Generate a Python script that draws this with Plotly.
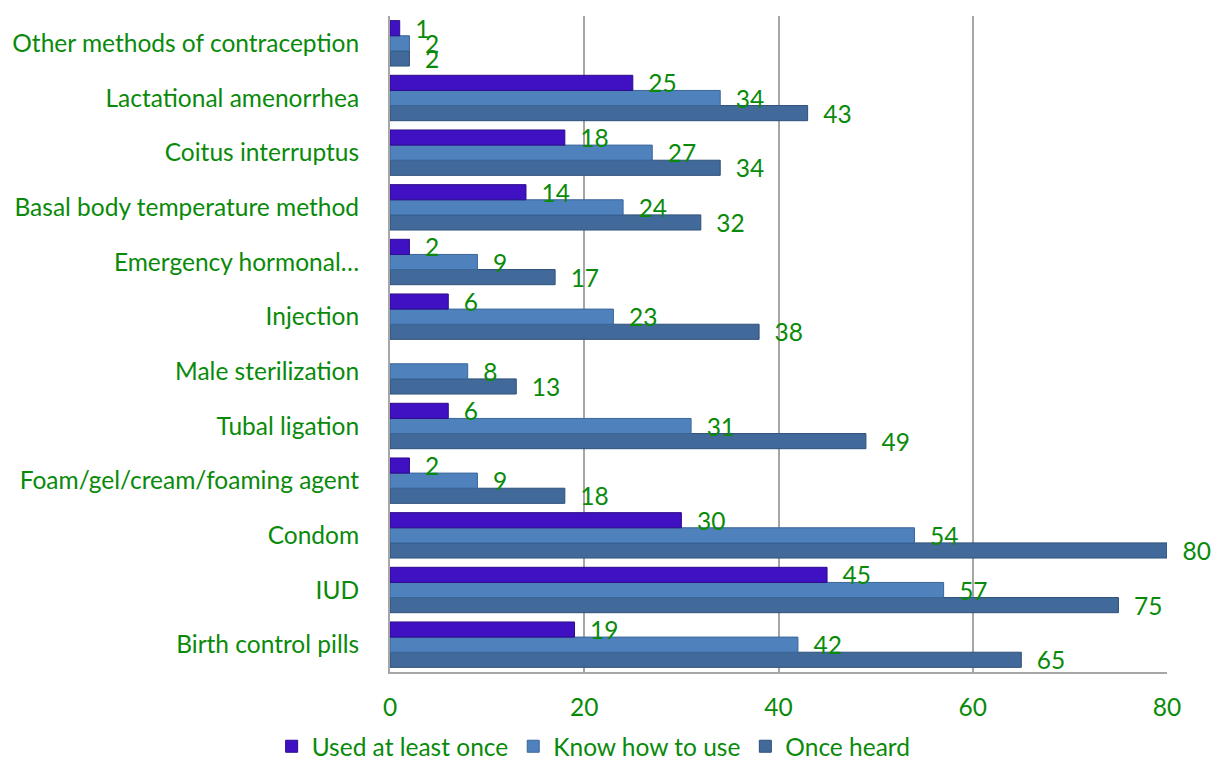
import plotly.graph_objects as go

categories = [
    "Birth control pills", "IUD", "Condom", "Foam/gel/cream/foaming agent",
    "Tubal ligation", "Male sterilization", "Injection", "Emergency hormonal…",
    "Basal body temperature method", "Coitus interruptus", "Lactational amenorrhea",
    "Other methods of contraception",
]
used_at_least_once = [19, 45, 30, 2, 6, None, 6, 2, 14, 18, 25, 1]
know_how_to_use = [42, 57, 54, 9, 31, 8, 23, 9, 24, 27, 34, 2]
once_heard = [65, 75, 80, 18, 49, 13, 38, 17, 32, 34, 43, 2]

x_ticks = [0, 20, 40, 60, 80]

GREEN = "#0A8A0A"
FONT = "Lato"
FS = 24.5

series = [
    ("Once heard", once_heard, "#416A9B", "#2E4F78", 3),
    ("Know how to use", know_how_to_use, "#4F81BD", "#3A6699", 2),
    ("Used at least once", used_at_least_once, "#4011C2", "#2C0B8A", 1),
]

fig = go.Figure()
for name, vals, col, edge, rank in series:
    fig.add_trace(go.Bar(
        y=categories, x=vals, name=name, orientation="h",
        marker=dict(color=col, line=dict(color=edge, width=1)),
        text=[("" if v is None else f"{v}") for v in vals],
        texttemplate="  %{text}",
        textposition="outside",
        constraintext="none",
        textfont=dict(color=GREEN, size=FS, family=FONT),
        cliponaxis=False,
        legendrank=rank,
    ))

fig.update_layout(
    width=1219, height=760,
    margin=dict(l=390, r=52, t=16, b=88, autoexpand=False),
    barmode="group", bargap=0.17, bargroupgap=0,
    plot_bgcolor="white", paper_bgcolor="white",
    font=dict(family=FONT, color=GREEN, size=FS),
    uniformtext=dict(minsize=FS, mode="show"),
    legend=dict(orientation="h", xref="container", x=0.487, xanchor="center",
                yref="container", y=0.018, yanchor="middle",
                font=dict(size=FS, color=GREEN, family=FONT), itemwidth=30,
                traceorder="normal"),
    xaxis=dict(range=[0, 80], tickvals=x_ticks, showgrid=True,
               gridcolor="#A6A6A6", gridwidth=2, zeroline=False,
               showline=True, linecolor="#A6A6A6", linewidth=2,
               ticks="", ticklabelstandoff=13,
               tickfont=dict(size=FS, color=GREEN, family=FONT)),
    yaxis=dict(categoryorder="array", categoryarray=categories,
               range=[-0.5, 11.5], showgrid=False, zeroline=False,
               showline=True, linecolor="#A6A6A6", linewidth=2,
               ticks="", ticklabelstandoff=24,
               tickfont=dict(size=FS, color=GREEN, family=FONT)),
)

fig.write_html("out.html")
